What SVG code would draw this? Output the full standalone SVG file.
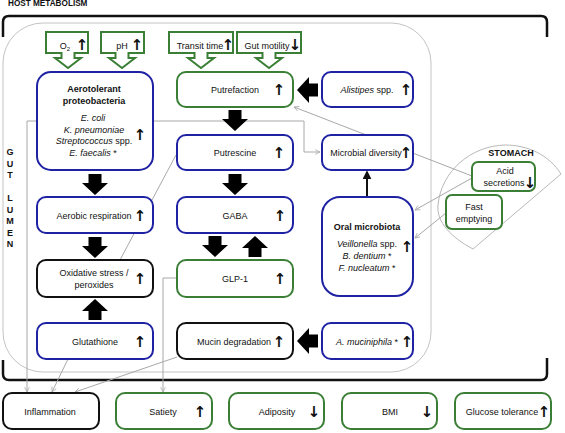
<svg xmlns="http://www.w3.org/2000/svg" xmlns:xlink="http://www.w3.org/1999/xlink" width="565" height="433" viewBox="0 0 565 433">
<style>
text{font-family:"Liberation Sans",Arial,sans-serif;font-size:9px;fill:#111;text-anchor:middle}
.b{font-weight:bold}
.i{font-style:italic}
.hd{font-weight:bold;font-size:8.2px;text-anchor:start}
.gl{font-weight:bold;font-size:9px}
.ar{font-family:"DejaVu Sans",sans-serif;font-weight:bold;font-size:15px}
.bx{fill:#fff;stroke-width:2}
.bl{stroke:#1f22a3}
.gr{stroke:#3a7f35}
.bk{stroke:#111}
.co{fill:#fff;stroke:#3a7f35;stroke-width:2}
.gc{fill:none;stroke:#a8a8a8;stroke-width:1}
.ba{fill:#000}
</style>
<defs>
<marker id="ga" viewBox="0 0 10 10" refX="9" refY="5" markerWidth="6" markerHeight="6" orient="auto"><path d="M1,1 L9,5 L1,9" fill="none" stroke="#a8a8a8" stroke-width="1.3"/></marker>
<marker id="ka" viewBox="0 0 10 10" refX="8" refY="5" markerWidth="4.5" markerHeight="4.5" orient="auto"><path d="M0,0 L10,5 L0,10 Z" fill="#111"/></marker>
<path id="bd" d="M-6.5,0 H6.5 V9 H13 L0,21 L-13,9 H-6.5 Z"/>
</defs>
<rect width="565" height="433" fill="#fff"/>
<!-- frames -->
<g id="lumen"><rect x="3" y="23" width="428" height="349" rx="40" fill="none" stroke="#c4c4c4" stroke-width="1"/></g>
<g id="stomach"><path d="M473,249 C452,238 436,222 438,205 C441,172 470,146 505,145 C528,145 549,155 561,174 Z" fill="#fff" stroke="#b8b8b8" stroke-width="1"/></g>
<g id="brackets" fill="none" stroke="#111" stroke-width="2.5">
<path d="M3,37 V22 Q3,16 9,16 H541 Q547,16 547,22 V37"/>
<path d="M3,360 V374 Q3,380 9,380 H541 Q547,380 547,374 V358"/>
</g>
<text class="hd" x="8" y="6.3">HOST METABOLISM</text>
<g id="gutlumen" class="gl">
<text class="gl" x="10" y="155.2">G</text>
<text class="gl" x="10" y="166.7">U</text>
<text class="gl" x="10" y="178.2">T</text>
<text class="gl" x="10" y="201.2">L</text>
<text class="gl" x="10" y="212.7">U</text>
<text class="gl" x="10" y="224.2">M</text>
<text class="gl" x="10" y="235.7">E</text>
<text class="gl" x="10" y="247.2">N</text>
</g>
<!-- connectors -->
<g id="connectors">
<path class="gc" d="M37,121 H27 V392" marker-end="url(#ga)"/>
<path class="gc" d="M153,121 H304 V152 H320" marker-end="url(#ga)"/>
<path class="gc" d="M472,176 L294,107" marker-end="url(#ga)"/>
<path class="gc" d="M472,178 L415,210" marker-end="url(#ga)"/>
<path class="gc" d="M446,213 L415,238" marker-end="url(#ga)"/>
<path class="gc" d="M176,155 L120,260"/>
<path class="gc" d="M68,359 L52,392" marker-end="url(#ga)"/>
<path class="gc" d="M177,357 L75,392" marker-end="url(#ga)"/>
<path class="gc" d="M177,278 H163 V392" marker-end="url(#ga)"/>
<path d="M367,197 V172" fill="none" stroke="#111" stroke-width="2" marker-end="url(#ka)"/>
<use href="#bd" class="ba" transform="translate(95,174)"/>
<use href="#bd" class="ba" transform="translate(95,237)"/>
<use href="#bd" class="ba" transform="translate(95,320) rotate(180)"/>
<use href="#bd" class="ba" transform="translate(235,110)"/>
<use href="#bd" class="ba" transform="translate(235,174)"/>
<use href="#bd" class="ba" transform="translate(215,236)"/>
<use href="#bd" class="ba" transform="translate(255,257) rotate(180)"/>
<use href="#bd" class="ba" transform="translate(318,90) rotate(90)"/>
<use href="#bd" class="ba" transform="translate(318,341) rotate(90)"/>
</g>
<!-- callouts -->
<g id="o2"><path class="co" d="M46,32 H88 V53 H74.5 V58 H81 L68,68 L55,58 H61.5 V53 H46 Z"/><text x="65" y="48.5">O<tspan font-size="6" dy="2">2</tspan></text><text class="ar" x="82" y="50">↑</text></g>
<g id="ph"><path class="co" d="M101,32 H144 V53 H128.5 V58 H135 L122,68 L109,58 H115.5 V53 H101 Z"/><text x="122" y="48.5">pH</text><text class="ar" x="137" y="50">↑</text></g>
<g id="transit"><path class="co" d="M169,32 H233 V53 H207.5 V58 H214 L201,68 L188,58 H194.5 V53 H169 Z"/><text x="200" y="48.5">Transit time</text><text class="ar" x="228" y="50">↑</text></g>
<g id="motility"><path class="co" d="M237,32 H301 V53 H275.5 V58 H282 L269,68 L256,58 H262.5 V53 H237 Z"/><text x="267" y="48.5">Gut motility</text><text class="ar" x="295" y="50">↓</text></g>
<!-- nodes -->
<g id="aerotolerant"><rect class="bx bl" x="37" y="72" width="116" height="98" rx="14"/>
<text class="b" x="94" y="92">Aerotolerant</text><text class="b" x="94" y="104">proteobacteria</text>
<text class="i" x="93" y="121">E. coli</text><text class="i" x="94" y="132.5">K. pneumoniae</text>
<text x="94" y="144"><tspan font-style="italic">Streptococcus</tspan> spp.</text><text x="93" y="156"><tspan font-style="italic">E. faecalis</tspan> *</text>
<text class="ar" x="140" y="140">↑</text></g>
<g id="aerobic"><rect class="bx bl" x="37" y="197" width="116" height="36" rx="9"/><text x="94" y="218.5">Aerobic respiration</text><text class="ar" x="140" y="221">↑</text></g>
<g id="oxidative"><rect class="bx bk" x="37" y="260" width="116" height="37" rx="9"/><text x="94" y="276">Oxidative stress /</text><text x="94" y="288">peroxides</text><text class="ar" x="140" y="284">↑</text></g>
<g id="glutathione"><rect class="bx bl" x="37" y="323" width="116" height="36" rx="9"/><text x="95" y="344.5">Glutathione</text><text class="ar" x="140" y="347">↑</text></g>
<g id="putrefaction"><rect class="bx gr" x="177" y="72" width="116" height="35" rx="9"/><text x="235" y="92.5">Putrefaction</text><text class="ar" x="279" y="95">↑</text></g>
<g id="putrescine"><rect class="bx bl" x="177" y="135" width="116" height="35" rx="9"/><text x="235" y="155.5">Putrescine</text><text class="ar" x="279" y="158">↑</text></g>
<g id="gaba"><rect class="bx bl" x="177" y="197" width="116" height="36" rx="9"/><text x="235" y="218.5">GABA</text><text class="ar" x="280" y="221">↑</text></g>
<g id="glp1"><rect class="bx gr" x="177" y="260" width="116" height="37" rx="9"/><text x="235" y="281.5">GLP-1</text><text class="ar" x="280" y="284">↑</text></g>
<g id="mucin"><rect class="bx bk" x="177" y="323" width="116" height="36" rx="9"/><text x="234" y="344.5">Mucin degradation</text><text class="ar" x="279" y="347">↑</text></g>
<g id="alistipes"><rect class="bx bl" x="322" y="72" width="91" height="35" rx="9"/><text x="367" y="92.5"><tspan font-style="italic">Alistipes</tspan> spp.</text><text class="ar" x="406" y="95">↑</text></g>
<g id="diversity"><rect class="bx bl" x="322" y="135" width="91" height="35" rx="9"/><text x="366" y="155.5">Microbial diversity</text><text class="ar" x="406" y="158">↑</text></g>
<g id="oral"><rect class="bx bl" x="322" y="197" width="91" height="99" rx="18"/>
<text class="b" x="367" y="230">Oral microbiota</text>
<text x="367" y="247"><tspan font-style="italic">Veillonella</tspan> spp.</text>
<text x="367" y="259"><tspan font-style="italic">B. dentium</tspan> *</text>
<text x="367" y="270.5"><tspan font-style="italic">F. nucleatum</tspan> *</text>
<text class="ar" x="407" y="252">↑</text></g>
<g id="akkermansia"><rect class="bx bl" x="322" y="323" width="91" height="36" rx="9"/><text x="367" y="344.5"><tspan font-style="italic">A. muciniphila</tspan> *</text><text class="ar" x="407" y="347">↑</text></g>
<g id="inflammation"><rect class="bx bk" x="3" y="393" width="96" height="36" rx="9"/><text x="50" y="414.5">Inflammation</text></g>
<g id="satiety"><rect class="bx gr" x="116" y="393" width="96" height="36" rx="9"/><text x="163" y="414.5">Satiety</text><text class="ar" x="200" y="417">↑</text></g>
<g id="adiposity"><rect class="bx gr" x="229" y="393" width="95" height="36" rx="9"/><text x="277" y="414.5">Adiposity</text><text class="ar" x="314" y="417">↓</text></g>
<g id="bmi"><rect class="bx gr" x="342" y="393" width="95" height="36" rx="9"/><text x="390" y="414.5">BMI</text><text class="ar" x="427" y="417">↓</text></g>
<g id="glucose"><rect class="bx gr" x="455" y="393" width="96" height="36" rx="9"/><text x="502" y="414.5">Glucose tolerance</text><text class="ar" x="544" y="417">↑</text></g>
<text class="b" x="511" y="156">STOMACH</text>
<g id="acid"><rect class="bx gr" x="472" y="162" width="63" height="29" rx="6"/><text x="505" y="174">Acid</text><text x="504" y="186">secretions</text><text class="ar" x="530" y="188">↓</text></g>
<g id="fast"><rect class="bx gr" x="446" y="195" width="56" height="34" rx="6"/><text x="474" y="210">Fast</text><text x="474" y="222">emptying</text></g>
</svg>
